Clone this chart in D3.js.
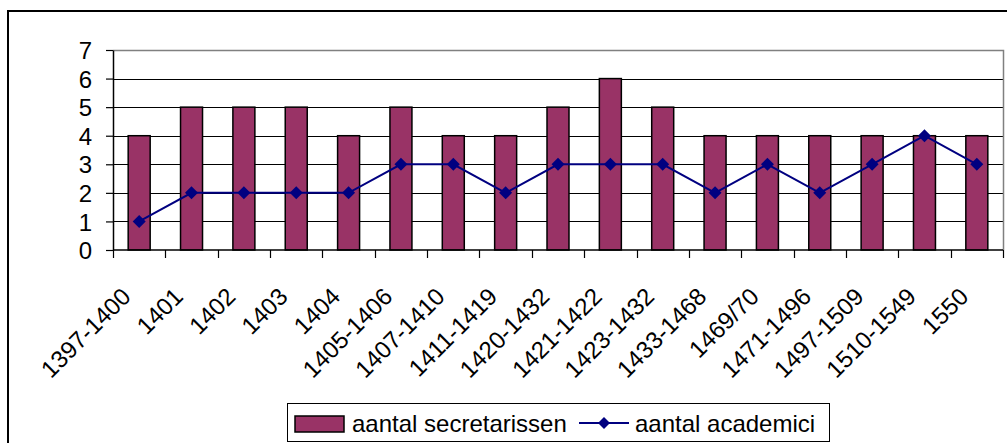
<!DOCTYPE html>
<html>
<head>
<meta charset="utf-8">
<script src="https://cdn.jsdelivr.net/npm/d3@7"></script>
<style>
  html, body { margin: 0; padding: 0; background: #fff; }
  svg { display: block; font-family: "Liberation Sans", Arial, sans-serif; }
</style>
</head>
<body>
<div id="chart"></div>
<script>
const periods = ['1397-1400', '1401', '1402', '1403', '1404', '1405-1406', '1407-1410', '1411-1419',
  '1420-1432', '1421-1422', '1423-1432', '1433-1468', '1469/70', '1471-1496', '1497-1509', '1510-1549', '1550'];
const secretarissen = [4, 5, 5, 5, 4, 5, 4, 4, 5, 6, 5, 4, 4, 4, 4, 4, 4];
const academici = [1, 2, 2, 2, 2, 3, 3, 2, 3, 3, 3, 2, 3, 2, 3, 4, 3];
const yTicks = [0, 1, 2, 3, 4, 5, 6, 7];

const svgWidth = 1007, svgHeight = 443;
const plot = { left: 113, right: 1003, top: 50, bottom: 250 };
const barColor = '#993366', lineColor = '#000080';
const fontSize = 24;

const svg = d3.select('#chart')
  .append('svg')
  .attr('width', svgWidth)
  .attr('height', svgHeight);

// outer chart frame (runs off the right and bottom edges)
svg.append('rect')
  .attr('x', 8).attr('y', 11)
  .attr('width', 1020).attr('height', 450)
  .attr('fill', 'none')
  .attr('stroke', '#000')
  .attr('stroke-width', 2);

const x = d3.scaleBand()
  .domain(periods)
  .range([plot.left, plot.right]);
const y = d3.scaleLinear()
  .domain([0, 7])
  .range([plot.bottom, plot.top]);

const bw = x.bandwidth();
const cx = d => x(d) + bw / 2;

// gridlines
svg.append('g')
  .selectAll('line')
  .data(yTicks.filter(t => t > 0 && t < 7))
  .enter()
  .append('line')
  .attr('x1', plot.left).attr('x2', plot.right)
  .attr('y1', d => Math.round(y(d)) + 0.5).attr('y2', d => Math.round(y(d)) + 0.5)
  .attr('stroke', '#000')
  .attr('stroke-width', 1);

// plot area border (top and right)
svg.append('path')
  .attr('d', `M${plot.left},${plot.top + 0.5}H${plot.right + 0.5}V${plot.bottom}`)
  .attr('fill', 'none')
  .attr('stroke', '#808080')
  .attr('stroke-width', 1.5);

// bars
svg.append('g')
  .selectAll('rect')
  .data(periods)
  .enter()
  .append('rect')
  .attr('x', d => x(d) + bw * 0.29)
  .attr('y', (d, i) => y(secretarissen[i]))
  .attr('width', bw * 0.42)
  .attr('height', (d, i) => y(0) - y(secretarissen[i]))
  .attr('fill', barColor)
  .attr('stroke', '#000')
  .attr('stroke-width', 1.5);

// y axis
const yAxis = svg.append('g')
  .attr('transform', `translate(${plot.left},0)`)
  .call(d3.axisLeft(y).tickValues(yTicks).tickFormat(d3.format('d')).tickSize(7).tickSizeOuter(0).tickPadding(14));
yAxis.select('.domain').attr('stroke', '#000').attr('stroke-width', 1.5);
yAxis.selectAll('.tick line').attr('stroke', '#000').attr('stroke-width', 1.2);
yAxis.selectAll('.tick text')
  .attr('font-size', fontSize)
  .attr('font-family', '"Liberation Sans", Arial, sans-serif')
  .attr('fill', '#000')
  .attr('dy', '0.36em');

// x axis
const xAxis = svg.append('g');
xAxis.append('line')
  .attr('x1', plot.left).attr('x2', plot.right)
  .attr('y1', plot.bottom).attr('y2', plot.bottom)
  .attr('stroke', '#000')
  .attr('stroke-width', 1.5);
xAxis.selectAll('line.tick')
  .data(periods.map(d => x(d)).concat([plot.right]))
  .enter()
  .append('line')
  .attr('class', 'tick')
  .attr('x1', d => Math.round(d) + 0.5).attr('x2', d => Math.round(d) + 0.5)
  .attr('y1', plot.bottom).attr('y2', plot.bottom + 8)
  .attr('stroke', '#000')
  .attr('stroke-width', 1.2);
xAxis.selectAll('text')
  .data(periods)
  .enter()
  .append('text')
  .attr('transform', d => `translate(${cx(d) - 7},298) rotate(-45)`)
  .attr('text-anchor', 'end')
  .attr('font-size', fontSize)
  .attr('fill', '#000')
  .text(d => d);

// academici line
const line = d3.line()
  .x(d => cx(d.p))
  .y(d => y(d.v));
const linePts = periods.map((p, i) => ({ p, v: academici[i] }));

svg.append('path')
  .datum(linePts)
  .attr('d', line)
  .attr('fill', 'none')
  .attr('stroke', lineColor)
  .attr('stroke-width', 2);

const diamond = s => `M0,${-s}L${s},0L0,${s}L${-s},0Z`;
svg.append('g')
  .selectAll('path')
  .data(linePts)
  .enter()
  .append('path')
  .attr('transform', d => `translate(${cx(d.p)},${y(d.v)})`)
  .attr('d', diamond(6.5))
  .attr('fill', lineColor);

// legend
const legend = svg.append('g');
legend.append('rect')
  .attr('x', 287.5).attr('y', 403.5)
  .attr('width', 542).attr('height', 38)
  .attr('fill', '#fff')
  .attr('stroke', '#000')
  .attr('stroke-width', 1);
legend.append('rect')
  .attr('x', 295).attr('y', 416)
  .attr('width', 49).attr('height', 16)
  .attr('fill', barColor)
  .attr('stroke', '#000')
  .attr('stroke-width', 1.5);
legend.append('text')
  .attr('x', 352).attr('y', 432)
  .attr('font-size', fontSize)
  .text('aantal secretarissen');
legend.append('line')
  .attr('x1', 579).attr('x2', 629)
  .attr('y1', 423).attr('y2', 423)
  .attr('stroke', lineColor)
  .attr('stroke-width', 2);
legend.append('path')
  .attr('transform', 'translate(604,423)')
  .attr('d', diamond(6))
  .attr('fill', lineColor);
legend.append('text')
  .attr('x', 635).attr('y', 432)
  .attr('font-size', fontSize)
  .text('aantal academici');
</script>
</body>
</html>
